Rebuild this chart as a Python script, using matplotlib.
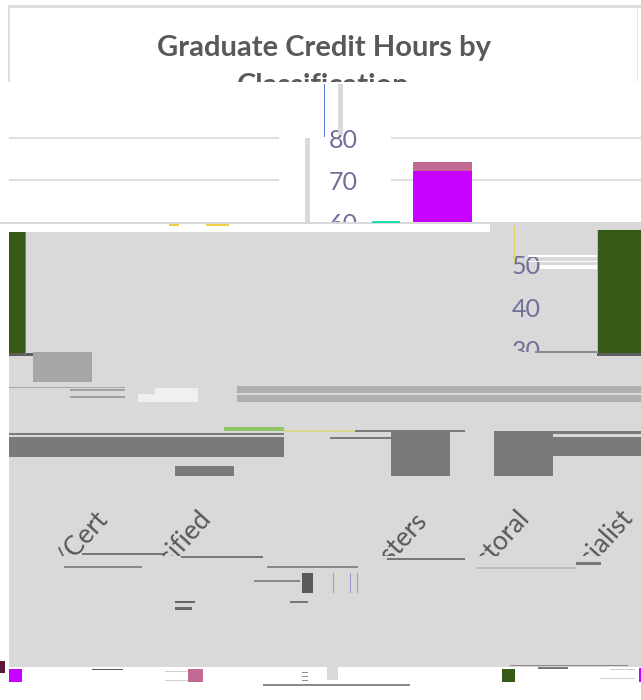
import matplotlib
matplotlib.use('Agg')
import matplotlib.pyplot as plt
from matplotlib.patches import Rectangle
from matplotlib.transforms import Bbox

W, H = 641, 700
ZERO_Y = 476  # pixel row of value 0
PX_PER_UNIT = 4.225

# Values
categories = ['Post Bacc/Cert', 'Unclassified', 'Masters', 'Doctoral', 'Specialist']
grey_hours = [29.3, 2.4, 10.6, 10.6, 0]
magenta_hours = [0, 0, 72.2, 28.6, 0]
pink_hours = [0, 0, 2.1, 0, 0]
green_hours = [0, 0, 0, 31, 0]

MAGENTA = '#c800ff'
PINK = '#c26a94'
GREEN = '#375a16'
PANEL = '#d9d9d9'
TEXT = '#595959'
TICK = '#6f6f9a'

plt.rcParams['font.family'] = ['Lato', 'DejaVu Sans']
fig = plt.figure(figsize=(W / 100, H / 100), dpi=100, facecolor='white')


def val(y):
    return (ZERO_Y - y) / PX_PER_UNIT


# rectangle given in picture pixels, drawn straight on the figure
def px_rect(x0, y0, x1, y1, color, z=-1):
    r = Rectangle((x0 / W, 1 - y1 / H), (x1 - x0) / W, (y1 - y0) / H, transform=fig.transFigure,
                  facecolor=color, edgecolor='none', zorder=z)
    fig.add_artist(r)


# one torn horizontal slice of the chart, with its own sideways shift
def band(x0, x1, top, bottom, centre, spacing=103, ref=0):
    ax = fig.add_axes([x0 / W, 1 - bottom / H, (x1 - x0) / W, (bottom - top) / H])
    ax.patch.set_alpha(0)
    left = ref - (centre - x0) / spacing
    ax.set_xlim(left, left + (x1 - x0) / spacing)
    ax.set_ylim(val(bottom), val(top))
    ax.set_xticks([])
    ax.set_yticks([])
    for s in ax.spines.values():
        s.set_visible(False)
    return ax


def stack_bars(ax, idx, series):
    bottom = [0] * len(categories)
    for values, color in series:
        for i in idx:
            ax.bar(i, values[i], bottom=bottom[i], width=59 / 103, color=color, zorder=3)
        bottom = [b + v for b, v in zip(bottom, values)]


# tick labels sit left of the slice, cut at its top and bottom rows
def y_labels(ax, ticks, top, bottom):
    ax.set_yticks(ticks)
    ax.tick_params(axis='y', length=0, labelsize=18, labelcolor=TICK, pad=0)
    for label in ax.get_yticklabels():
        label.set_clip_on(True)
        label.set_clip_box(Bbox.from_extents(0, H - bottom, W, H - top))


# panel and frame
px_rect(8, 5, 641, 8, '#dcdcdc')
px_rect(8, 7, 10, 82, '#dcdcdc')
px_rect(637, 7, 638, 82, '#e8e8e8')
px_rect(9, 232, 641, 667, PANEL)
px_rect(490, 224, 641, 232, PANEL)
px_rect(0, 222, 641, 224, PANEL)
px_rect(514, 226, 515, 263, '#d8d060', 2)
px_rect(372, 221, 400, 223, '#20e0b0', 2)
px_rect(169, 224, 179, 226, '#f0d040', 2)
px_rect(206, 224, 229, 226, '#f0d040', 2)

# title, cut off by the tear under its first line
fig.text(324 / W, 1 - 48 / H, 'Graduate Credit Hours by', ha='center', va='center',
         fontsize=21, fontweight='bold', color=TEXT)
title_b = fig.text(323 / W, 1 - 86 / H, 'Classification', ha='center', va='center',
                   fontsize=21, fontweight='bold', color=TEXT)
title_b.set_clip_on(True)
title_b.set_clip_box(Bbox.from_extents(0, H - 82, W, H))

# top slice: gridlines either side of the ticks, tallest bar on the right
grid_left = band(9, 279, 84, 222, 442, ref=2)
grid_right = band(391, 641, 84, 222, 442, ref=2)
for g in (grid_left, grid_right):
    g.set_yticks([70, 80])
    g.set_yticklabels([])
    g.tick_params(axis='y', length=0)
    g.grid(axis='y', color=PANEL, linewidth=1.2)
stack_bars(grid_right, [2], [(magenta_hours, MAGENTA), (pink_hours, PINK)])
ticks_top = band(358, 391, 84, 224, 442, ref=2)
y_labels(ticks_top, [60, 70, 80], 84, 222)
px_rect(305, 138, 310, 224, PANEL, 3)
px_rect(338, 84, 343, 135, PANEL, 3)
px_rect(323.5, 84, 324.5, 137, '#5b7fd6', 3)

# green bar wraps round the right edge
mid = band(597, 641, 230, 355, 627, ref=3)
stack_bars(mid, [3], [(magenta_hours, MAGENTA), (pink_hours, PINK), (green_hours, GREEN)])
wrap = band(9, 25, 232, 355, -5, ref=3)
stack_bars(wrap, [3], [(magenta_hours, MAGENTA), (pink_hours, PINK), (green_hours, GREEN)])
px_rect(596.5, 230, 597.5, 355, '#c8c840', 2)
px_rect(25, 232, 26, 355, '#5b7fd6', 2)

ticks_low = band(541, 593, 232, 353, 554, ref=3)
y_labels(ticks_low, [30, 40, 50], 232, 352)
px_rect(528, 255, 597, 257, 'white', 2)
px_rect(528, 261, 597, 262, 'white', 2)
px_rect(540, 265, 597, 269, 'white', 2)

# grey marks in the lower slices
light = band(33, 92, 352, 382, 62.5, ref=0)
stack_bars(light, [0], [(grey_hours, '#a6a6a6')])
dark = band(391, 553, 431, 476, 420.5, ref=2)
stack_bars(dark, [2, 3], [(grey_hours, '#7a7a7a')])
low = band(174, 234, 466, 478, 204, ref=1)
stack_bars(low, [1], [(grey_hours, '#7a7a7a')])

# torn stripes across the panel
px_rect(9, 353, 33, 356, '#5c5c5c', 1)
px_rect(535, 351, 597, 353, '#8a8a8a', 1)
px_rect(597, 353, 641, 356, '#5c5c5c', 2)
px_rect(237, 386, 641, 393, '#b0b0b0', 1)
px_rect(237, 395, 641, 402, '#b0b0b0', 1)
px_rect(138, 394, 198, 402, '#f0f0f0', 1)
px_rect(155, 388, 198, 394, '#f0f0f0', 1)
px_rect(70, 389, 125, 391, '#a0a0a0', 1)
px_rect(70, 396, 125, 398, '#a0a0a0', 1)
px_rect(9, 387, 125, 388, '#a8a8a8', 1)
px_rect(9, 437, 284, 457, '#7a7a7a', 1)
px_rect(9, 433, 284, 435, '#7a7a7a', 1)
px_rect(224, 427, 284, 431, '#92c46a', 1)
px_rect(284, 430, 355, 432, '#d8d890', 1)
px_rect(355, 430, 465, 432, '#7a7a7a', 1)
px_rect(553, 431, 641, 434, '#7a7a7a', 1)
px_rect(553, 437, 641, 456, '#7a7a7a', 1)
px_rect(330, 437, 391, 439, '#7a7a7a', 1)

# category labels, only the upper right end of each survives
label_ends = [94, 197, 413, 516, 619]
label_tops = [505, 503, 505, 502, 503]
for name, x_end, y_top in zip(categories, label_ends, label_tops):
    t = fig.text(x_end / W, 1 - (y_top + 2) / H, name, rotation=48, ha='right', va='top',
                 rotation_mode='anchor', fontsize=19, color=TEXT)
    t.set_clip_on(True)
    t.set_clip_box(Bbox.from_extents(0, H - 556, W, H - 495))

# scratches under the labels
for x0, y0, x1, y1, c in [(82, 553, 165, 554.5, '#777777'), (181, 556, 263, 558, '#777777'),
                          (64, 566, 142, 568, '#888888'), (267, 566, 358, 568, '#888888'),
                          (387, 558, 465, 560, '#777777'), (477, 567, 576, 569, '#bbbbbb'),
                          (254, 580, 300, 582, '#888888'), (302, 573, 313, 593, '#5a5a5a'),
                          (333, 573, 334, 593, '#9a9ac8'), (350, 573, 351, 593, '#9a9ac8'),
                          (357, 573, 358, 593, '#9a9ac8'), (576, 562, 601, 565, '#777777'),
                          (175, 601, 195, 603, '#666666'), (175, 607, 192, 610, '#666666'),
                          (290, 601, 308, 603, '#777777')]:
    px_rect(x0, y0, x1, y1, c, 1)

# legend swatches, their text is not readable in the picture
px_rect(0, 661, 5, 673, '#5a1a3c', 2)
px_rect(9, 669, 22, 682, MAGENTA, 2)
px_rect(188, 669, 203, 682, PINK, 2)
px_rect(502, 669, 515, 682, GREEN, 2)
px_rect(639, 668, 641, 682, MAGENTA, 2)
px_rect(263, 684, 410, 686, '#8a8a8a', 2)
px_rect(327, 667, 338, 680, PANEL, 2)
px_rect(510, 665, 628, 666, '#8a8a8a', 2)
px_rect(538, 667, 568, 669, '#777777', 2)
px_rect(92, 669, 123, 670, '#555555', 2)
px_rect(165, 671, 188, 672, '#d0d0d0', 2)
px_rect(165, 680, 188, 681, '#d0d0d0', 2)
px_rect(600, 678, 635, 679, '#d0d0d0', 2)
px_rect(610, 669, 635, 670, '#d0d0d0', 2)
px_rect(302, 672, 308, 673, '#909090', 2)
px_rect(302, 676, 308, 677, '#909090', 2)
px_rect(302, 680, 308, 681, '#909090', 2)

fig.savefig('out.png', dpi=100)
